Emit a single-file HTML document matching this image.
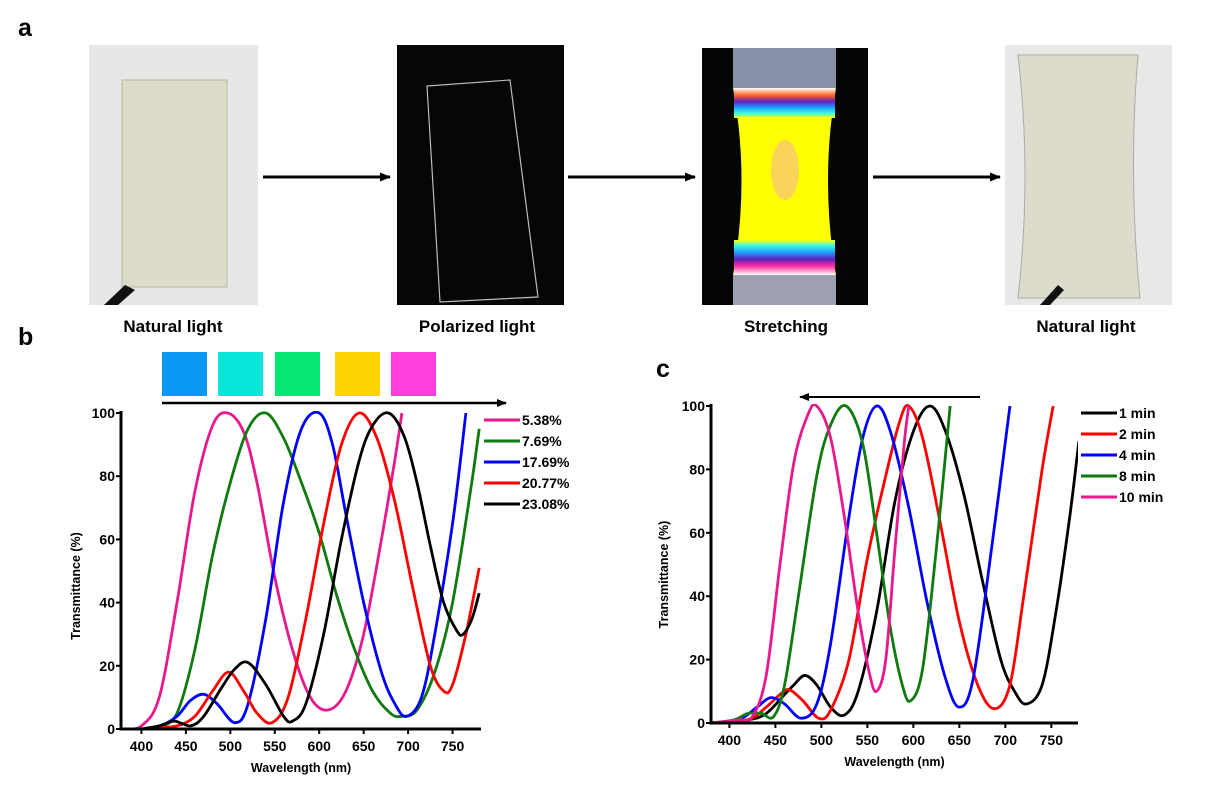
<!DOCTYPE html>
<html><head><meta charset="utf-8">
<style>
html,body{margin:0;padding:0;background:#fff;}
#root{position:relative;width:1214px;height:811px;overflow:hidden;font-family:"Liberation Sans",Arial,sans-serif;}
.abs{position:absolute;}
.lbl{position:absolute;font-weight:bold;font-size:17px;color:#000;text-align:center;width:200px;}
.panel{position:absolute;font-weight:bold;font-size:25px;color:#000;}
</style></head>
<body>
<div id="root">
<div class="panel" style="left:18px;top:14px">a</div>
<div class="panel" style="left:18px;top:323px">b</div>
<div class="panel" style="left:656px;top:355px">c</div>

<svg class="abs" style="left:0;top:0" width="1214" height="340">
  <defs>
    <marker id="ah" markerUnits="userSpaceOnUse" markerWidth="11" markerHeight="9" refX="10" refY="4.5" orient="auto"><path d="M0,0 L11,4.5 L0,9 z" fill="#000"/></marker>
    <linearGradient id="topband" x1="0" y1="0" x2="0" y2="1">
      <stop offset="0" stop-color="#fff"/><stop offset="0.25" stop-color="#ff6020"/><stop offset="0.45" stop-color="#6020c0"/><stop offset="0.65" stop-color="#20a0ff"/><stop offset="0.85" stop-color="#40ffe0"/><stop offset="1" stop-color="#ffff00"/>
    </linearGradient>
    <linearGradient id="botband" x1="0" y1="1" x2="0" y2="0">
      <stop offset="0" stop-color="#fff"/><stop offset="0.25" stop-color="#ff30a0"/><stop offset="0.45" stop-color="#6020c0"/><stop offset="0.65" stop-color="#20a0ff"/><stop offset="0.85" stop-color="#40ffe0"/><stop offset="1" stop-color="#ffff00"/>
    </linearGradient>
  </defs>
  <g>
    <rect x="89" y="45" width="169" height="260" fill="#e7e7e5"/>
    <rect x="122" y="80" width="105" height="207" fill="#dcdcc8" stroke="#b8b8a8" stroke-width="1"/>
    <path d="M104,305 L125,285 L135,290 L118,305 z" fill="#111"/>
  </g>
  <line x1="263" y1="177" x2="390" y2="177" stroke="#000" stroke-width="3" marker-end="url(#ah)"/>
  <g>
    <rect x="397" y="45" width="167" height="260" fill="#060606"/>
    <path d="M427,86 L510,80 L538,297 L440,302 z" fill="none" stroke="#bbb" stroke-width="1.2"/>
  </g>
  <line x1="568" y1="177" x2="695" y2="177" stroke="#000" stroke-width="3" marker-end="url(#ah)"/>
  <g>
    <rect x="702" y="48" width="166" height="257" fill="#050505"/>
    <rect x="733" y="48" width="103" height="40" fill="#8890a8"/>
    <path d="M733,88 L836,88 Q820,180 836,275 L733,275 Q750,180 733,88 z" fill="#ffff00"/>
    <rect x="734" y="88" width="101" height="30" fill="url(#topband)"/>
    <rect x="734" y="240" width="101" height="35" fill="url(#botband)"/>
    <ellipse cx="785" cy="170" rx="14" ry="30" fill="#f8c080" opacity="0.7"/>
    <rect x="733" y="275" width="103" height="30" fill="#9ca0b0"/>
  </g>
  <line x1="873" y1="177" x2="1000" y2="177" stroke="#000" stroke-width="3" marker-end="url(#ah)"/>
  <g>
    <rect x="1005" y="45" width="167" height="260" fill="#e8e8e6"/>
    <path d="M1018,55 L1138,55 Q1128,175 1140,298 L1018,298 Q1032,175 1018,55 z" fill="#dddccc" stroke="#aaa" stroke-width="1"/>
    <path d="M1040,305 L1058,285 L1064,290 L1050,305 z" fill="#111"/>
  </g>
</svg>
<div class="lbl" style="left:73px;top:317px">Natural light</div>
<div class="lbl" style="left:377px;top:317px">Polarized light</div>
<div class="lbl" style="left:686px;top:317px">Stretching</div>
<div class="lbl" style="left:986px;top:317px">Natural light</div>

<svg id="chartB" class="abs" style="left:0;top:340px" width="640" height="471">
  <defs><marker id="ahs" markerUnits="userSpaceOnUse" markerWidth="10" markerHeight="8" refX="9" refY="4" orient="auto"><path d="M0,0 L10,4 L0,8 z" fill="#000"/></marker></defs>
</svg>
<svg id="chartC" class="abs" style="left:640px;top:340px" width="574" height="471">
  <defs><marker id="ahc" markerUnits="userSpaceOnUse" markerWidth="10" markerHeight="8" refX="9" refY="4" orient="auto"><path d="M0,0 L10,4 L0,8 z" fill="#000"/></marker></defs>
</svg>
</div>

<script>
// ---------- Chart b data ----------
const bTicksX = [400,450,500,550,600,650,700,750];
const bTicksY = [0,20,40,60,80,100];
const bLabels = ["5.38%","7.69%","17.69%","20.77%","23.08%"];
const bColors = ["#e8198c","#0f7a0f","#0000ff","#ff0000","#000000"];
const bX538 = [380,400,420,440,460,480,497,515,530,550,570,590,610,630,650,670,685,693];
const bY538 = [0,1,10,40,75,96,100,94,78,48,25,10,6,12,30,60,85,100];
const bX769 = [420,440,460,480,500,520,540,560,580,600,620,640,660,680,693,710,730,750,770,780];
const bY769 = [0.5,5,25,55,78,95,100,92,78,62,42,25,12,5,4,6,18,40,75,95];
const bX1769 = [420,440,455,470,485,505,520,540,560,580,600,615,630,650,670,685,698,715,730,750,765];
const bY1769 = [0.5,4,9,11,8,2,8,35,72,95,100,90,68,40,18,8,4,10,30,65,100];
const bX2077 = [420,440,460,480,498,515,530,547,565,585,605,625,645,665,685,705,725,740,750,765,780];
const bY2077 = [0.5,1,4,12,18,12,5,2,10,35,65,90,100,92,72,45,20,12,14,30,51];
const bX2308 = [400,420,437,455,470,490,505,520,540,560,570,585,605,625,645,660,678,695,710,725,740,755,762,772,780];
const bY2308 = [0,1,2.5,1,4,13,19,21,14,4,2.5,8,30,60,85,96,100,93,78,58,40,31,30,35,43];

// ---------- Chart c data ----------
const cTicksX = [400,450,500,550,600,650,700,750];
const cTicksY = [0,20,40,60,80,100];
const cLabels = ["1 min","2 min","4 min","8 min","10 min"];
const cColors = ["#000000","#ff0000","#0000ff","#0f7a0f","#e8198c"];
const cX1 = [380,420,440,460,470,482,495,510,525,540,560,580,600,618,635,655,675,695,710,723,740,755,770,780];
const cY1 = [0,1,3,9,12,15,12,5,2.5,10,35,70,92,100,92,72,45,20,10,6,12,35,65,89];
const cX2 = [380,420,440,455,465,480,497,510,530,550,570,585,595,610,630,650,670,688,705,720,740,752];
const cY2 = [0,1,5,9,10.5,7,1.5,4,20,52,78,95,100,90,62,32,12,4.5,12,40,80,100];
const cX4 = [380,410,430,445,460,478,495,510,530,545,560,575,595,615,635,650,665,685,705];
const cY4 = [0,1,5,8,6,1.5,6,25,65,90,100,92,68,38,14,5,14,55,100];
const cX8 = [380,405,420,435,448,460,475,495,510,527,545,560,575,588,597,610,625,640];
const cY8 = [0,1,3,3,2,12,40,78,94,100,88,60,30,12,7,17,55,100];
const cX10 = [380,410,425,440,455,470,485,495,510,525,540,552,560,570,580,590,595];
const cY10 = [0,1,2,15,50,82,97,100,90,65,35,16,10,20,55,88,100];

const NS = "http://www.w3.org/2000/svg";
function mk(tag, attrs, parent){
  const e = document.createElementNS(NS, tag);
  for (const k in attrs) e.setAttribute(k, attrs[k]);
  parent.appendChild(e);
  return e;
}
function smoothPath(pts){
  let d = "M"+pts[0][0].toFixed(2)+","+pts[0][1].toFixed(2);
  for (let i=0;i<pts.length-1;i++){
    const p0=pts[i-1]||pts[i], p1=pts[i], p2=pts[i+1], p3=pts[i+2]||p2;
    const c1x=p1[0]+(p2[0]-p0[0])/6, c1y=p1[1]+(p2[1]-p0[1])/6;
    const c2x=p2[0]-(p3[0]-p1[0])/6, c2y=p2[1]-(p3[1]-p1[1])/6;
    d+=" C"+c1x.toFixed(2)+","+c1y.toFixed(2)+" "+c2x.toFixed(2)+","+c2y.toFixed(2)+" "+p2[0].toFixed(2)+","+p2[1].toFixed(2);
  }
  return d;
}

// ---------- draw chart b ----------
(function(){
  const svg = document.getElementById("chartB");
  const L=121, R=481, T=73, B=389, x0=377, x1=782;
  const sx = v => L + (v-x0)/(x1-x0)*(R-L);
  const sy = v => B - v/100*(B-T);
  const sqColors=["#0a98f4","#0ae6da","#05e873","#ffd400","#ff3ee0"];
  const sqX=[162,218,275,335,391];
  for (let i=0;i<5;i++){
    const r = mk("rect",{x:sqX[i],y:12,width:45,height:44,fill:sqColors[i]},svg);
    
    
  }
  const arr = mk("line",{x1:162,y1:63,x2:506,y2:63,stroke:"#000","stroke-width":2.5,"marker-end":"url(#ahs)"},svg);
  
  
  const clip = mk("clipPath",{id:"clipB"},svg);
  mk("rect",{x:L,y:T-2,width:R-L,height:B-T+2},clip);
  const g = mk("g",{"clip-path":"url(#clipB)"},svg);
  const xs=[bX538,bX769,bX1769,bX2077,bX2308], ys=[bY538,bY769,bY1769,bY2077,bY2308];
  for (let s=0;s<5;s++){
    const pts = xs[s].map((v,i)=>[sx(v),sy(ys[s][i])]);
    const p = mk("path",{d:smoothPath(pts),fill:"none",stroke:bColors[s],"stroke-width":2.8,"stroke-linejoin":"round"},g);
    
    
  }
  const ax = mk("path",{d:`M${L},${T-2} L${L},${B} L${R},${B}`,fill:"none",stroke:"#000","stroke-width":3},svg);
  
  
  bTicksX.forEach(v=>{
    mk("line",{x1:sx(v),y1:B,x2:sx(v),y2:B+5,stroke:"#000","stroke-width":2},svg);
    const t = mk("text",{x:sx(v),y:B+22,"text-anchor":"middle","font-size":14,"font-weight":"bold"},svg);
    t.textContent=v;
    
    
  });
  bTicksY.forEach(v=>{
    mk("line",{x1:L-5,y1:sy(v),x2:L,y2:sy(v),stroke:"#000","stroke-width":2},svg);
    const t = mk("text",{x:L-6,y:sy(v)+5,"text-anchor":"end","font-size":14,"font-weight":"bold"},svg);
    t.textContent=v;
    
    
  });
  const xt = mk("text",{x:(L+R)/2,y:B+43,"text-anchor":"middle","font-size":12.5,"font-weight":"bold"},svg);
  xt.textContent="Wavelength (nm)";
  
  
  const yt = mk("text",{x:0,y:0,"text-anchor":"middle","font-size":12.5,"font-weight":"bold",transform:`translate(80,${(T+B)/2+15}) rotate(-90)`},svg);
  yt.textContent="Transmittance (%)";
  
  
  for (let i=0;i<5;i++){
    const y = 80 + i*21;
    const ln = mk("line",{x1:484,y1:y,x2:520,y2:y,stroke:bColors[i],"stroke-width":3},svg);
    
    
    const t = mk("text",{x:522,y:y+5,"font-size":14,"font-weight":"bold"},svg);
    t.textContent=bLabels[i];
    
    
  }
})();

// ---------- draw chart c ----------
(function(){
  const svg = document.getElementById("chartC");
  const L=71, R=438, T=66, B=383, x0=380, x1=779;
  const sx = v => L + (v-x0)/(x1-x0)*(R-L);
  const sy = v => B - v/100*(B-T);
  const arr = mk("line",{x1:340,y1:57,x2:160,y2:57,stroke:"#000","stroke-width":2,"marker-end":"url(#ahc)"},svg);
  
  
  const clip = mk("clipPath",{id:"clipC"},svg);
  mk("rect",{x:L,y:T-2,width:R-L,height:B-T+2},clip);
  const g = mk("g",{"clip-path":"url(#clipC)"},svg);
  const xs=[cX1,cX2,cX4,cX8,cX10], ys=[cY1,cY2,cY4,cY8,cY10];
  for (let s=0;s<5;s++){
    const pts = xs[s].map((v,i)=>[sx(v),sy(ys[s][i])]);
    const p = mk("path",{d:smoothPath(pts),fill:"none",stroke:cColors[s],"stroke-width":2.8,"stroke-linejoin":"round"},g);
    
    
  }
  const ax = mk("path",{d:`M${L},${T-2} L${L},${B} L${R},${B}`,fill:"none",stroke:"#000","stroke-width":3},svg);
  
  
  cTicksX.forEach(v=>{
    mk("line",{x1:sx(v),y1:B,x2:sx(v),y2:B+5,stroke:"#000","stroke-width":2},svg);
    const t = mk("text",{x:sx(v),y:B+22,"text-anchor":"middle","font-size":14,"font-weight":"bold"},svg);
    t.textContent=v;
    
    
  });
  cTicksY.forEach(v=>{
    mk("line",{x1:L-5,y1:sy(v),x2:L,y2:sy(v),stroke:"#000","stroke-width":2},svg);
    const t = mk("text",{x:L-6,y:sy(v)+5,"text-anchor":"end","font-size":14,"font-weight":"bold"},svg);
    t.textContent=v;
    
    
  });
  const xt = mk("text",{x:(L+R)/2,y:B+43,"text-anchor":"middle","font-size":12.5,"font-weight":"bold"},svg);
  xt.textContent="Wavelength (nm)";
  
  
  const yt = mk("text",{x:0,y:0,"text-anchor":"middle","font-size":12.5,"font-weight":"bold",transform:`translate(28,${(T+B)/2+10}) rotate(-90)`},svg);
  yt.textContent="Transmittance (%)";
  
  
  for (let i=0;i<5;i++){
    const y = 73 + i*21;
    const ln = mk("line",{x1:441,y1:y,x2:477,y2:y,stroke:cColors[i],"stroke-width":3},svg);
    
    
    const t = mk("text",{x:479,y:y+5,"font-size":14,"font-weight":"bold"},svg);
    t.textContent=cLabels[i];
    
    
  }
})();
</script>
</body></html>
